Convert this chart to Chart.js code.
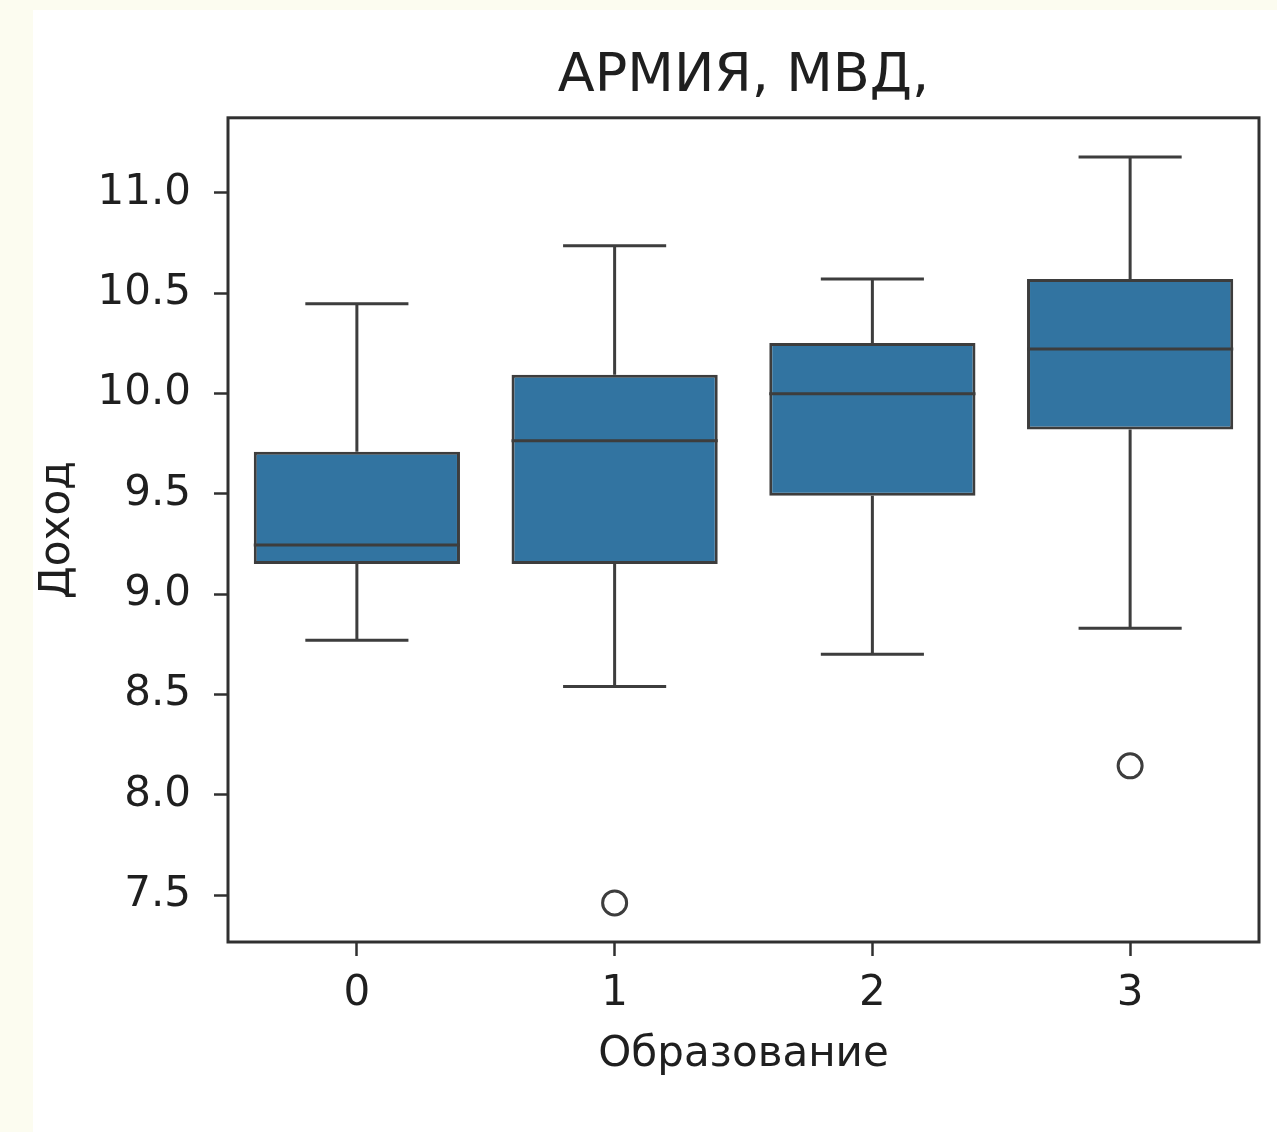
<!DOCTYPE html>
<html>
<head>
<meta charset="utf-8">
<script src="https://cdn.jsdelivr.net/npm/chart.js@4/dist/chart.umd.min.js"></script>
<style>
  html, body { margin: 0; padding: 0; background: #fcfcf0; }
  #wrap { position: absolute; left: 33px; top: 10px; width: 1244px; height: 1122px; background: #ffffff; }
  canvas { display: block; }
</style>
</head>
<body>
<div id="wrap"><canvas id="c" width="1244" height="1122"></canvas></div>
<script>
// ---- data ----
const categories = ['0', '1', '2', '3'];
const whiskerLow  = [8.77, 8.54, 8.70, 8.83];
const q1          = [9.15, 9.15, 9.49, 9.82];
const medians     = [9.245, 9.764, 9.998, 10.222];
const q3          = [9.71, 10.093, 10.252, 10.57];
const whiskerHigh = [10.447, 10.736, 10.571, 11.179];
const outliers    = [null, 7.461, null, 8.144];
const yTickValues = [7.5, 8.0, 8.5, 9.0, 9.5, 10.0, 10.5, 11.0];
const titleText = 'АРМИЯ, МВД,';
const xLabel = 'Образование';
const yLabel = 'Доход';

const boxColor = '#3274a1';
const lineColor = '#3d3d3d';
const textColor = '#1f1f1f';
const fontFamily = "'DejaVu Sans', sans-serif";

const boxWhiskerPlugin = {
  id: 'boxWhisker',
  afterDatasetsDraw(chart) {
    const ctx = chart.ctx;
    const xs = chart.scales.x, ys = chart.scales.y;
    const step = xs.getPixelForValue(1) - xs.getPixelForValue(0);
    ctx.save();
    ctx.strokeStyle = lineColor;
    ctx.lineWidth = 3;
    ctx.lineCap = 'butt';
    categories.forEach((c, i) => {
      const cx = xs.getPixelForValue(i);
      const capHalf = step * 0.2;
      const boxHalf = step * 0.4;
      ctx.beginPath();
      ctx.moveTo(cx, ys.getPixelForValue(q3[i]));
      ctx.lineTo(cx, ys.getPixelForValue(whiskerHigh[i]));
      ctx.moveTo(cx, ys.getPixelForValue(q1[i]));
      ctx.lineTo(cx, ys.getPixelForValue(whiskerLow[i]));
      ctx.moveTo(cx - capHalf, ys.getPixelForValue(whiskerHigh[i]));
      ctx.lineTo(cx + capHalf, ys.getPixelForValue(whiskerHigh[i]));
      ctx.moveTo(cx - capHalf, ys.getPixelForValue(whiskerLow[i]));
      ctx.lineTo(cx + capHalf, ys.getPixelForValue(whiskerLow[i]));
      ctx.moveTo(cx - boxHalf, ys.getPixelForValue(medians[i]));
      ctx.lineTo(cx + boxHalf, ys.getPixelForValue(medians[i]));
      ctx.stroke();
    });
    ctx.restore();
  },
  afterDraw(chart) {
    const a = chart.chartArea;
    const ctx = chart.ctx;
    ctx.save();
    ctx.strokeStyle = '#303030';
    ctx.lineWidth = 3;
    ctx.strokeRect(a.left, a.top, a.right - a.left, a.bottom - a.top);
    ctx.restore();
  }
};

new Chart(document.getElementById('c'), {
  data: {
    labels: categories,
    datasets: [
      {
        type: 'bar',
        label: 'box',
        data: q1.map((v, i) => [v, q3[i]]),
        backgroundColor: boxColor,
        borderColor: lineColor,
        borderWidth: 3,
        borderSkipped: false,
        categoryPercentage: 1.0,
        barPercentage: 0.8,
        order: 2
      },
      {
        type: 'line',
        label: 'outliers',
        data: outliers,
        showLine: false,
        pointRadius: 12,
        pointHoverRadius: 12,
        pointBackgroundColor: '#ffffff',
        pointBorderColor: lineColor,
        pointBorderWidth: 3,
        order: 1
      }
    ]
  },
  options: {
    responsive: false,
    animation: false,
    events: [],
    layout: { padding: { left: 0, right: 18, top: 0, bottom: 0 } },
    plugins: {
      legend: { display: false },
      tooltip: { enabled: false },
      title: {
        display: true,
        fullSize: false,
        text: titleText,
        color: textColor,
        font: { family: fontFamily, size: 54, weight: 'normal' },
        padding: { top: 35, bottom: 8 }
      }
    },
    scales: {
      x: {
        type: 'category',
        offset: true,
        grid: { display: true, drawOnChartArea: false, drawTicks: true, tickLength: 14, tickColor: '#303030', tickWidth: 2.5, offset: false },
        border: { display: false },
        ticks: { color: textColor, font: { family: fontFamily, size: 42 }, padding: 13, maxRotation: 0 },
        title: { display: true, text: xLabel, color: textColor, font: { family: fontFamily, size: 42 }, padding: { top: 0, bottom: 52 } },
        afterFit(scale) { scale.height = 190; }
      },
      y: {
        type: 'linear',
        min: 7.266,
        max: 11.374,
        grid: { display: true, drawOnChartArea: false, drawTicks: true, tickLength: 14, tickColor: '#303030', tickWidth: 2.5 },
        border: { display: false },
        afterBuildTicks(scale) { scale.ticks = yTickValues.map(v => ({ value: v })); },
        ticks: {
          color: textColor,
          font: { family: fontFamily, size: 42 },
          padding: 23,
          callback: (v) => Number(v).toFixed(1)
        },
        title: { display: true, text: yLabel, color: textColor, font: { family: fontFamily, size: 42 }, padding: { top: 0, bottom: 0 } },
        afterFit(scale) { scale.width = 195; }
      }
    }
  },
  plugins: [boxWhiskerPlugin]
});
</script>
</body>
</html>
